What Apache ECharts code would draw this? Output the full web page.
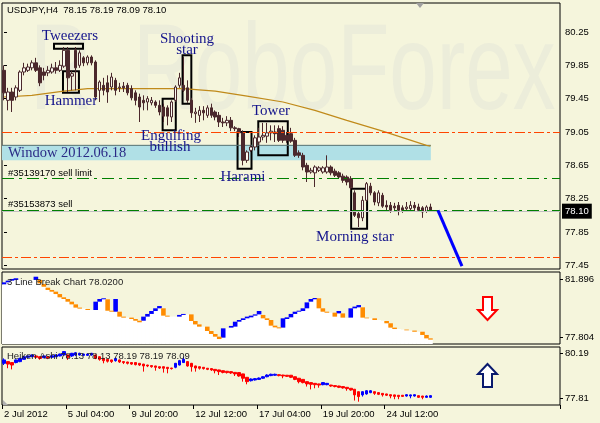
<!DOCTYPE html>
<html><head><meta charset="utf-8">
<script src="https://cdn.jsdelivr.net/npm/echarts@6/dist/echarts.min.js"></script>
<style>html,body{margin:0;padding:0;background:#f5f5dc}#c{width:600px;height:423px}</style>
</head><body><div id="c"></div>
<script>
// ---------- DATA ----------
const N = 140; // bar slots on the time axis (incl. right shift)
const tickIdx = [0,16,32,48,64,80,96];
const tickLabels = ['2 Jul 2012','5 Jul 04:00','9 Jul 20:00','12 Jul 12:00','17 Jul 04:00','19 Jul 20:00','24 Jul 12:00'];
const mainTicks = [77.45,77.85,78.25,78.65,79.05,79.45,79.85,80.25];
const lbTicks = [77.804,81.896];
const haTicks = [77.81,80.19];

const open = [
79.79,79.43,79.53,79.47,79.55,79.77,79.79,79.82,79.88,79.82,
79.77,79.76,79.77,79.82,79.79,79.84,80.03,79.72,80.03,79.85,
79.94,79.88,79.95,79.89,79.55,79.61,79.64,79.59,79.67,79.58,
79.60,79.61,79.57,79.52,79.47,79.43,79.41,79.40,79.41,79.37,
79.35,79.34,79.23,79.43,79.61,79.61,79.58,79.43,79.27,79.25,
79.31,79.25,79.34,79.29,79.25,79.17,79.16,79.19,79.10,79.09,
79.04,78.71,78.83,78.87,78.93,78.99,79.00,79.04,79.05,79.09,
79.07,79.01,79.03,78.95,78.80,78.77,78.65,78.57,78.56,78.59,
78.57,78.57,78.63,78.58,78.56,78.52,78.51,78.49,78.32,78.07,
78.02,78.23,78.40,78.32,78.20,78.29,78.17,78.17,78.16,78.17,
78.14,78.13,78.13,78.17,78.15,78.14,78.10,78.15];
const close = [
79.52,79.53,79.43,79.58,79.77,79.82,79.83,79.88,79.79,79.64,
79.73,79.79,79.82,79.79,79.85,80.03,79.70,79.75,79.82,80.00,
79.88,79.95,79.88,79.47,79.65,79.55,79.53,79.71,79.55,79.59,
79.58,79.52,79.46,79.43,79.35,79.40,79.45,79.43,79.37,79.29,
79.24,79.24,79.41,79.59,79.70,79.55,79.43,79.28,79.29,79.31,
79.28,79.34,79.25,79.23,79.17,79.16,79.19,79.10,79.09,79.04,
78.71,78.81,78.87,78.98,78.99,79.01,79.04,79.06,79.03,78.95,
78.95,78.95,78.94,78.77,78.77,78.63,78.57,78.59,78.63,78.62,
78.62,78.63,78.56,78.53,78.51,78.47,78.45,78.38,78.05,78.02,
78.23,78.43,78.32,78.21,78.32,78.16,78.15,78.11,78.14,78.11,
78.11,78.15,78.17,78.14,78.11,78.09,78.15,78.10];
const low = [
79.43,79.31,79.29,79.43,79.53,79.73,79.77,79.79,79.77,79.60,
79.67,79.72,79.75,79.75,79.77,79.82,79.53,79.55,79.55,79.82,
79.84,79.85,79.85,79.43,79.41,79.49,79.40,79.55,79.49,79.53,
79.53,79.49,79.43,79.37,79.17,79.31,79.31,79.37,79.34,79.25,
79.17,79.13,79.17,79.41,79.58,79.53,79.40,79.22,79.16,79.17,
79.19,79.22,79.22,79.19,79.11,79.11,79.12,79.06,79.06,78.99,
78.65,78.68,78.81,78.83,78.89,78.95,78.92,78.95,78.93,78.93,
78.92,78.92,78.92,78.75,78.74,78.59,78.45,78.55,78.39,78.57,
78.55,78.55,78.53,78.51,78.49,78.44,78.41,78.35,78.03,77.91,
77.98,78.21,78.29,78.17,78.16,78.14,78.11,78.08,78.10,78.05,
78.08,78.10,78.09,78.10,78.09,78.02,78.08,78.09];
const high = [
79.85,79.58,79.58,79.61,79.79,79.88,79.87,79.91,79.94,79.85,
79.82,79.84,79.87,79.89,79.91,80.07,80.07,79.79,80.07,80.03,
79.96,79.97,79.97,79.91,79.67,79.70,79.73,79.76,79.70,79.64,
79.65,79.64,79.61,79.55,79.51,79.49,79.48,79.47,79.43,79.43,
79.39,79.37,79.43,79.61,79.76,79.95,79.67,79.46,79.34,79.36,
79.36,79.37,79.39,79.31,79.29,79.22,79.24,79.23,79.12,79.10,
79.07,78.83,78.89,79.01,79.10,79.16,79.16,79.13,79.13,79.13,
79.12,79.05,79.10,78.98,78.83,78.80,78.68,78.62,78.65,78.64,
78.64,78.77,78.65,78.61,78.58,78.55,78.53,78.52,78.35,78.10,
78.28,78.45,78.44,78.34,78.35,78.32,78.23,78.21,78.20,78.21,
78.17,78.21,78.22,78.21,78.19,78.16,78.17,78.19];

// moving average, read at a few bars
const maIdx = [0,7,15,21,32,37,45,53,61,70,78,86,95,106,107];
const maVal = [79.47,79.49,79.54,79.57,79.57,79.57,79.57,79.54,79.48,79.41,79.31,79.19,79.06,78.89,78.88];

// horizontal levels
const redLevels = [79.05,77.55];
const greenLevels = [78.49,78.11];
const bidPrice = 78.10;
// window band
const windowTop = 78.89, windowBottom = 78.71, windowStart = -0.5, windowEnd = 107.1;
// pattern boxes (bar index from/to, price top/bottom)
const boxX0 = [12.55,14.8,44.8,39.8,58.6,63.8,87.1];
const boxX1 = [19.82,18.8,47.0,43.1,62.1,71.2,91.1];
const boxTop = [80.11,79.78,79.97,79.45,79.05,79.18,78.37];
const boxBot = [80.05,79.52,79.39,79.07,78.61,78.77,77.89];
// forecast line
const fcX = [108.88,114.9];
const fcY = [78.11,77.44];

// 3 Line Break
const lbLow = [
81.54,81.68,81.80,81.85,81.85,81.85,81.85,81.85,81.85,81.61,
81.37,81.14,81.02,80.85,80.62,80.50,80.31,80.12,79.89,79.82,
79.82,79.72,79.72,79.72,80.31,80.48,79.67,79.60,79.60,79.25,
79.18,79.18,79.08,78.96,78.85,78.96,79.25,79.44,79.65,79.84,
79.32,79.25,79.25,79.25,79.25,79.37,79.41,78.94,78.70,78.54,
78.54,78.23,78.02,77.83,77.66,77.76,78.42,78.47,78.54,78.89,
79.01,79.13,79.20,79.32,79.41,79.13,79.01,78.61,78.49,78.42,
78.47,79.08,79.20,79.44,79.60,79.65,79.84,80.31,80.48,79.84,
79.60,79.53,79.53,79.25,79.48,79.18,79.15,79.18,79.84,79.91,
79.18,79.13,79.13,79.01,79.01,78.96,78.78,78.47,78.37,78.37,
78.33,78.28,78.26,78.18,78.18,77.95,77.71,77.62];
const lbHigh = [
81.68,81.80,81.92,81.97,81.85,81.85,81.85,81.85,82.08,81.85,
81.56,81.30,81.14,81.02,80.85,80.62,80.50,80.31,80.12,79.89,
79.82,79.79,79.72,80.31,80.50,80.55,80.48,79.67,80.50,79.60,
79.25,79.18,79.18,79.08,78.96,79.25,79.44,79.65,79.84,80.00,
79.84,79.32,79.25,79.25,79.37,79.44,79.41,79.41,78.94,78.70,
78.54,78.54,78.23,78.02,77.83,78.42,78.42,78.59,78.89,79.01,
79.13,79.25,79.32,79.41,79.65,79.37,79.13,79.01,78.61,78.49,
79.13,79.20,79.44,79.60,79.67,79.84,80.26,80.50,80.57,80.55,
79.84,79.60,79.53,79.53,79.65,79.48,79.15,79.84,79.96,80.07,
79.91,79.18,79.13,79.13,79.01,78.96,78.94,78.78,78.47,78.37,
78.33,78.33,78.26,78.26,78.18,78.18,77.95,77.71];
const lbDir = [
1,1,1,1,0,0,0,0,1,-1,
-1,-1,-1,-1,-1,-1,-1,-1,-1,-1,
0,-1,0,1,1,1,-1,-1,1,-1,
-1,0,-1,-1,-1,1,1,1,1,1,
-1,-1,0,0,1,1,0,-1,-1,-1,
0,-1,-1,-1,-1,1,0,1,1,1,
1,1,1,1,1,-1,-1,-1,-1,-1,
1,1,1,1,1,1,1,1,1,-1,
-1,-1,0,-1,1,-1,0,1,1,1,
-1,-1,0,-1,0,0,-1,-1,-1,0,
0,-1,0,-1,0,-1,-1,-1];

// Heiken Ashi
const haO = [
79.66,79.75,79.70,79.70,79.75,79.87,79.98,80.01,80.05,80.01,
79.96,80.01,79.98,80.01,80.05,80.10,80.10,80.05,80.10,80.10,
80.08,80.08,80.10,80.10,80.01,79.92,79.87,79.84,79.80,79.84,
79.75,79.73,79.70,79.70,79.66,79.62,79.57,79.54,79.52,79.48,
79.48,79.45,79.41,79.45,79.57,79.70,79.75,79.66,79.52,79.48,
79.45,79.40,79.38,79.34,79.31,79.27,79.24,79.22,79.18,79.17,
79.10,78.92,78.74,78.78,78.81,78.87,78.95,79.01,79.03,79.06,
79.04,79.03,79.03,78.95,78.87,78.81,78.69,78.64,78.60,78.57,
78.53,78.53,78.51,78.48,78.46,78.43,78.39,78.34,78.29,78.16,
77.99,78.04,78.11,78.16,78.11,78.07,78.04,78.00,77.99,77.97,
77.97,77.93,77.93,77.93,77.95,77.93,77.86,77.86];
const haC = [
79.84,79.62,79.57,79.84,79.92,80.01,80.05,80.10,79.98,79.92,
80.05,79.94,80.06,80.10,80.15,80.28,79.98,80.19,80.22,80.19,
80.15,80.15,80.19,79.92,79.87,79.80,79.77,79.75,79.92,79.73,
79.70,79.66,79.62,79.59,79.57,79.52,79.52,79.48,79.45,79.41,
79.40,79.38,79.38,79.66,79.80,79.87,79.52,79.48,79.41,79.40,
79.38,79.34,79.31,79.27,79.22,79.18,79.17,79.15,79.10,78.99,
78.87,78.69,78.83,78.85,78.88,78.95,79.04,79.08,79.08,79.01,
78.99,78.97,78.92,78.81,78.69,78.64,78.57,78.55,78.53,78.51,
78.64,78.60,78.46,78.43,78.39,78.36,78.32,78.25,77.99,77.90,
78.16,78.21,78.21,78.07,78.02,77.99,77.97,77.93,77.91,77.90,
77.91,78.00,77.99,78.00,77.86,77.86,77.93,77.95];
const haL = [
79.57,79.40,79.34,79.66,79.72,79.85,79.95,79.99,79.94,79.85,
79.93,79.88,79.96,79.99,80.03,80.08,79.84,80.00,80.05,80.07,
80.05,80.05,80.07,79.88,79.80,79.66,79.70,79.68,79.75,79.68,
79.62,79.60,79.58,79.55,79.52,79.22,79.46,79.43,79.27,79.36,
79.17,79.13,79.33,79.40,79.55,79.68,79.48,79.22,79.22,79.33,
79.33,79.30,79.26,79.13,79.04,79.13,79.12,79.10,78.99,78.95,
78.69,78.55,78.70,78.75,78.78,78.84,78.92,78.98,79.00,78.97,
78.87,78.94,78.88,78.77,78.60,78.60,78.43,78.28,78.34,78.37,
78.50,78.50,78.42,78.39,78.35,78.32,78.21,78.21,77.69,77.63,
77.90,78.00,78.08,77.99,77.98,77.90,77.93,77.81,77.76,77.76,
77.88,77.90,77.81,77.90,77.83,77.76,77.83,77.83];
const haH = [
79.92,79.75,79.70,79.86,79.95,80.03,80.07,80.12,80.06,80.02,
80.07,80.02,80.08,80.12,80.17,80.30,80.12,80.21,80.26,80.22,
80.17,80.18,80.21,80.12,80.03,79.94,79.88,79.85,79.95,79.86,
79.76,79.74,79.71,79.71,79.67,79.63,79.58,79.55,79.53,79.49,
79.49,79.46,79.42,79.68,79.84,80.02,79.77,79.68,79.53,79.49,
79.46,79.41,79.39,79.35,79.32,79.28,79.25,79.23,79.19,79.18,
79.11,78.93,78.86,78.88,78.91,78.98,79.08,79.11,79.11,79.08,
79.05,79.04,79.04,78.96,78.88,78.82,78.70,78.65,78.61,78.58,
78.66,78.62,78.52,78.49,78.47,78.44,78.40,78.35,78.30,78.17,
78.18,78.24,78.24,78.17,78.12,78.08,78.05,78.01,78.00,77.98,
77.98,78.03,78.01,78.02,77.96,77.94,77.96,77.97];

// ---------- BUILD ----------
const cats = Array.from({length: N}, (_, i) => String(i));
const candleData = open.map((o, i) => [o, close[i], low[i], high[i]]);
const haData = haO.map((o, i) => [o, haC[i], haL[i], haH[i]]);
const maData = open.map(() => null);
maIdx.forEach((k, j) => { maData[k] = maVal[j]; });
const lbBlue = lbDir.map((d, i) => d > 0 ? +(lbHigh[i] - lbLow[i]).toFixed(3) : '-');
const lbOrange = lbDir.map((d, i) => d < 0 ? +(lbHigh[i] - lbLow[i]).toFixed(3) : '-');

const F = 'Liberation Sans';
const SERIF = 'Liberation Serif';
const NAVY = '#14148c';
function txt(x, y, s, o) {
  o = o || {};
  return { type: 'text', x: x, y: y, z: o.z || 50, scaleX: o.scaleX || 1,
    style: { text: s, fill: o.fill || '#000', fontSize: o.size || 9.5, fontFamily: o.font || F,
      align: o.align || 'left', verticalAlign: o.va || 'middle', fontWeight: o.weight || 'normal' } };
}

const markLines = [];
markLines.push({ yAxis: bidPrice, lineStyle: { color: '#c0c0c0', width: 1, type: 'solid' },
  label: { show: true, position: 'end', formatter: '78.10', color: '#fff', backgroundColor: '#000',
    padding: [3, 3, 2, 3], fontSize: 9.5, fontFamily: F, distance: 2 } });
redLevels.forEach(v => markLines.push({ yAxis: v, lineStyle: { color: '#ff4500', width: 1, type: [10, 3, 3, 3] }, label: { show: false } }));
greenLevels.forEach(v => markLines.push({ yAxis: v, lineStyle: { color: '#008000', width: 1, type: [12, 5, 3, 5] }, label: { show: false } }));

const boxAreas = boxX0.map((x0, i) => [{ xAxis: x0, yAxis: boxTop[i] }, { xAxis: boxX1[i], yAxis: boxBot[i] }]);

const option = {
  animation: false,
  backgroundColor: '#f5f5dc',
  textStyle: { fontFamily: F },
  grid: [
    { left: 2, top: 3, width: 558, height: 266, show: true, borderColor: '#000', borderWidth: 1 },
    { left: 2, top: 272, width: 558, height: 72, show: true, borderColor: '#000', borderWidth: 1 },
    { left: 2, top: 347, width: 558, height: 58, show: true, borderColor: '#000', borderWidth: 1 }
  ],
  xAxis: [
    { type: 'category', gridIndex: 0, data: cats, boundaryGap: true, show: false },
    { type: 'value', gridIndex: 0, min: -0.5, max: N - 0.5, show: false },
    { type: 'category', gridIndex: 1, data: cats, boundaryGap: true, show: false },
    { type: 'category', gridIndex: 2, data: cats, boundaryGap: true,
      axisLine: { show: false },
      axisTick: { show: true, length: 4, lineStyle: { color: '#000' }, interval: (i) => tickIdx.includes(i) },
      axisLabel: { interval: (i) => tickIdx.includes(i), formatter: (v, i) => tickLabels[tickIdx.indexOf(i)],
        align: 'left', color: '#000', fontSize: 9.5, margin: 4, fontFamily: F },
      splitLine: { show: false } }
  ],
  yAxis: [
    { type: 'value', gridIndex: 0, position: 'right', min: 77.406, max: 80.598, splitLine: { show: false },
      axisLine: { show: false },
      axisTick: { show: true, length: 3, lineStyle: { color: '#000' }, customValues: mainTicks },
      axisLabel: { customValues: mainTicks, formatter: v => v.toFixed(2), color: '#000', fontSize: 9.5, margin: 5, fontFamily: F } },
    { type: 'value', gridIndex: 1, position: 'right', min: 77.309, max: 82.414, splitLine: { show: false },
      axisLine: { show: false },
      axisTick: { show: true, length: 3, lineStyle: { color: '#000' }, customValues: lbTicks },
      axisLabel: { customValues: lbTicks, formatter: v => v.toFixed(3), color: '#000', fontSize: 9.5, margin: 5, fontFamily: F } },
    { type: 'value', gridIndex: 2, position: 'right', min: 77.455, max: 80.523, splitLine: { show: false },
      axisLine: { show: false },
      axisTick: { show: true, length: 3, lineStyle: { color: '#000' }, customValues: haTicks },
      axisLabel: { customValues: haTicks, formatter: v => v.toFixed(2), color: '#000', fontSize: 9.5, margin: 5, fontFamily: F } }
  ],
  series: [
    { // window band + its top edge
      type: 'line', xAxisIndex: 1, yAxisIndex: 0, z: 1, symbol: 'none', silent: true,
      data: [[windowStart, windowTop], [windowEnd, windowTop]],
      lineStyle: { color: '#557070', width: 1 },
      markArea: { silent: true, itemStyle: { color: '#b0e0e6' },
        data: [[{ xAxis: windowStart, yAxis: windowTop }, { xAxis: windowEnd, yAxis: windowBottom }]] }
    },
    { type: 'line', xAxisIndex: 0, yAxisIndex: 0, z: 2, data: maData, connectNulls: true, symbol: 'none',
      lineStyle: { color: '#c08a1a', width: 1.2 } },
    { type: 'candlestick', xAxisIndex: 0, yAxisIndex: 0, z: 3, data: candleData, barWidth: 3,
      itemStyle: { color: '#fbfbf2', color0: '#4b282c', borderColor: '#4b282c', borderColor0: '#4b282c', borderWidth: 1 },
      markLine: { silent: true, symbol: ['none', 'none'], data: markLines }
    },
    { // pattern boxes
      type: 'line', xAxisIndex: 1, yAxisIndex: 0, z: 5, symbol: 'none', silent: true,
      data: [[boxX0[0], boxTop[0]]], lineStyle: { opacity: 0 },
      markArea: { silent: true, itemStyle: { color: 'rgba(0,0,0,0)', borderColor: '#000', borderWidth: 2 }, data: boxAreas }
    },
    { type: 'line', xAxisIndex: 1, yAxisIndex: 0, z: 6, symbol: 'none',
      data: fcX.map((x, i) => [x, fcY[i]]), lineStyle: { color: '#0000ff', width: 3 } },
    // line break
    { type: 'bar', xAxisIndex: 2, yAxisIndex: 1, stack: 'lb', data: lbLow, barWidth: 4.6,
      itemStyle: { color: '#ffffff' } },
    { type: 'bar', xAxisIndex: 2, yAxisIndex: 1, stack: 'lb', data: lbBlue, barWidth: 4.6,
      itemStyle: { color: '#0000ff' } },
    { type: 'bar', xAxisIndex: 2, yAxisIndex: 1, stack: 'lb', data: lbOrange, barWidth: 4.6,
      itemStyle: { color: '#ff8c00' } },
    // heiken ashi
    { type: 'candlestick', xAxisIndex: 3, yAxisIndex: 2, data: haData, barWidth: 3,
      itemStyle: { color: '#0000ff', color0: '#ff0000', borderColor: '#0000ff', borderColor0: '#ff0000', borderWidth: 1 } }
  ],
  graphic: [
    { type: 'text', x: 30, y: 14, z: -10, scaleX: 0.7, silent: true,
      style: { text: 'R', fill: '#ecedda', fontSize: 122, fontFamily: F, align: 'left', verticalAlign: 'top' } },
    { type: 'text', x: 133, y: 14, z: -10, scaleX: 0.7, silent: true,
      style: { text: 'RoboForex', fill: '#ecedda', fontSize: 122, fontFamily: F, align: 'left', verticalAlign: 'top' } },
    txt(7, 10, 'USDJPY,H4  78.15 78.19 78.09 78.10'),
    txt(8, 173, '#35139170 sell limit'),
    txt(8, 204, '#35153873 sell'),
    txt(8, 153, 'Window 2012.06.18', { size: 14.5, font: SERIF, fill: '#2a2a86' }),
    txt(70, 36, 'Tweezers', { size: 15, font: SERIF, fill: NAVY, align: 'center' }),
    txt(71, 101, 'Hammer', { size: 15, font: SERIF, fill: NAVY, align: 'center' }),
    txt(187, 39, 'Shooting', { size: 15, font: SERIF, fill: NAVY, align: 'center' }),
    txt(187, 50, 'star', { size: 15, font: SERIF, fill: NAVY, align: 'center' }),
    txt(171, 136, 'Engulfing', { size: 15, font: SERIF, fill: NAVY, align: 'center' }),
    txt(170, 147, 'bullish', { size: 15, font: SERIF, fill: NAVY, align: 'center' }),
    txt(271, 111, 'Tower', { size: 15, font: SERIF, fill: NAVY, align: 'center' }),
    txt(243, 177, 'Harami', { size: 15, font: SERIF, fill: NAVY, align: 'center' }),
    txt(355, 237, 'Morning star', { size: 15, font: SERIF, fill: NAVY, align: 'center' }),
    txt(7, 282, '3 Line Break Chart 78.0200', { fill: '#222' }),
    txt(7, 356, 'Heiken Ashi 78.13 78.13 78.19 78.19 78.09', { fill: '#222' }),
    { type: 'polygon', z: 50, shape: { points: [[483, 297], [492, 297], [492, 310], [497, 310], [487.5, 320], [478, 310], [483, 310]] },
      style: { fill: '#ffffff', stroke: '#ff0000', lineWidth: 2 } },
    { type: 'polygon', z: 50, shape: { points: [[487.5, 364], [497, 374], [492, 374], [492, 387], [483, 387], [483, 374], [478, 374]] },
      style: { fill: '#ffffff', stroke: '#0a1a6e', lineWidth: 2 } },
    { type: 'polygon', z: 50, shape: { points: [[416, 3], [424, 3], [420, 8]] }, style: { fill: '#a0a0a0' } },
    { type: 'polygon', z: 50, shape: { points: [[3, 400], [3, 405], [8, 405]] }, style: { fill: '#b0b0b0' } }
  ]
};
const chart = echarts.init(document.getElementById('c'), null, { renderer: 'canvas' });
chart.setOption(option);
</script></body></html>
